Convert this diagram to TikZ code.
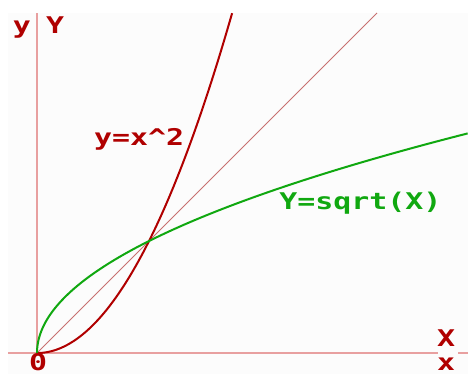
\documentclass[tikz,border=0pt]{standalone}
\usepackage{fontspec}
\usepackage{graphicx}
\usetikzlibrary{positioning}
\newfontfamily\pixfont{DejaVu Sans Mono}[BoldFont={DejaVu Sans Mono Bold}]
\definecolor{plotbg}{HTML}{FCFCFC}
\definecolor{curvered}{HTML}{B00000}
\definecolor{curvegreen}{HTML}{10A810}
\definecolor{axispink}{HTML}{E8A0A0}
\definecolor{diagred}{HTML}{C87070}

\begin{document}
\begin{tikzpicture}[x=112pt,y=112pt,
  ax/.style={axispink,line width=1.4pt},
  cv/.style={line width=2pt,line join=round},
  lb/.style={font=\pixfont\bfseries\fontsize{23}{23}\selectfont,inner sep=0pt,anchor=base}]
\useasboundingbox (-0.3304,-0.1875) rectangle (3.848,3.152);
\fill[plotbg] (-0.259,-0.1875) rectangle (3.848,3.036);
% axes
\draw[ax] (0,0) -- (0,3.036);
\draw[ax] (-0.259,0) -- (3.580,0);
\draw[ax] (3.759,0) -- (3.848,0);
\draw[diagred,line width=0.8pt] (0,0) -- (3.036,3.036);
% curves
\draw[cv,curvered] plot[domain=0:1.742,samples=80,variable=\t] ({\t},{\t*\t});
\draw[cv,curvegreen] plot[domain=0:1.9616,samples=100,variable=\t] ({\t*\t},{\t});
% labels
\node[lb,text=curvered] (ylo) at (-0.134,2.857) {\scalebox{1.3}[1]{y}};
\node[lb,text=curvered] (yup) at (0.161,2.857) {\scalebox{1.3}[1]{Y}};
\node[lb,text=curvered,text depth=0pt] (orig) at (0.009,-0.155) {\scalebox{1.3}[1]{0}};
\node[lb,text=curvered] (xup) at (3.652,0.054) {\scalebox{1.3}[1]{X}};
\node[lb,text=curvered,text depth=0pt] (xlo) at (3.652,-0.155) {\scalebox{1.3}[1]{x}};
\node[lb,text=curvered] (sq) at (0.911,1.857) {\scalebox{1.3}[1]{y=x\^{}2}};
\node[lb,text=curvegreen] (rt) at (2.888,1.286) {\scalebox{1.3}[1]{Y=sqrt(X)}};
\end{tikzpicture}
\end{document}
